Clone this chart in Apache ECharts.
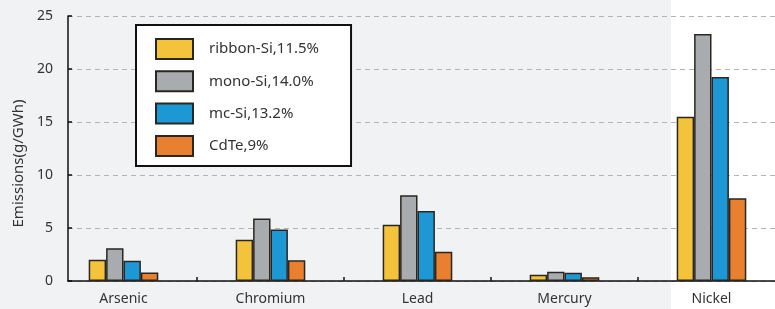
<!DOCTYPE html>
<html>
<head>
<meta charset="utf-8">
<script src="https://cdn.jsdelivr.net/npm/echarts@6/dist/echarts.min.js"></script>
<style>
  html, body { margin: 0; padding: 0; background: #f1f2f4; }
  #main { width: 775px; height: 309px; }
</style>
</head>
<body>
<div id="main"></div>
<script>
// 数据
let metals = ['Arsenic', 'Chromium', 'Lead', 'Mercury', 'Nickel'],
    ribbonSi = [2.0, 3.9, 5.3, 0.6, 15.5],
    monoSi = [3.1, 5.9, 8.1, 0.87, 23.3],
    mcSi = [1.9, 4.85, 6.6, 0.77, 19.25],
    cdTe = [0.8, 1.95, 2.75, 0.36, 7.8],
    yTicks = [0, 5, 10, 15, 20, 25];

let names = ['ribbon-Si,11.5%', 'mono-Si,14.0%', 'mc-Si,13.2%', 'CdTe,9%'],
    colors = ['#f2c33b', '#a9acaf', '#1e98d5', '#e8802f'],
    values = [ribbonSi, monoSi, mcSi, cdTe];

let font = 'Noto Sans, sans-serif',
    textColor = '#333';

let myChart = echarts.init(document.getElementById('main'));

myChart.setOption({
    backgroundColor: '#f1f2f4',
    animation: false,
    textStyle: { fontFamily: font },
    graphic: [
        // Nickel 区域白底
        { type: 'rect', z: -100, shape: { x: 671, y: 0, width: 104, height: 309 }, style: { fill: '#ffffff' } }
    ],
    legend: {
        orient: 'vertical',
        left: 136,
        top: 25,
        backgroundColor: '#fff',
        borderColor: '#111',
        borderWidth: 2,
        padding: [13, 32, 9, 19],
        icon: 'rect',
        itemWidth: 37,
        itemHeight: 20,
        itemGap: 10.3,
        data: names,
        textStyle: { fontSize: 15, lineHeight: 20, color: textColor, fontFamily: font, padding: [0, 0, 0, 11] }
    },
    grid: [
        { left: 50, width: 735, top: 16, bottom: 28, outerBoundsMode: 'none' },
        { left: 68, right: 0, top: 16, bottom: 28, outerBoundsMode: 'none' }
    ],
    xAxis: [
        {
            type: 'category',
            gridIndex: 0,
            data: metals,
            axisLine: { show: false },
            axisTick: { show: true, inside: true, length: 4, lineStyle: { color: '#111', width: 1.5 }, interval: (i) => i > 0 },
            axisLabel: { fontSize: 14, color: textColor, margin: 11, fontFamily: font }
        },
        {
            type: 'value',
            gridIndex: 1,
            min: 0,
            max: 1,
            axisLine: { show: true, lineStyle: { color: '#111', width: 1.5 } },
            axisTick: { show: false },
            axisLabel: { show: false },
            splitLine: { show: false }
        }
    ],
    yAxis: [
        {
            type: 'value',
            gridIndex: 0,
            min: 0,
            max: 25,
            interval: 5,
            show: false
        },
        {
            type: 'value',
            gridIndex: 1,
            min: yTicks[0],
            max: yTicks[yTicks.length - 1],
            interval: 5,
            name: 'Emissions(g/GWh)',
            nameLocation: 'middle',
            nameGap: 39,
            nameTextStyle: { fontSize: 15, color: textColor, fontFamily: font, padding: [0, 30, 0, 0] },
            axisLine: { show: true, lineStyle: { color: '#111', width: 1.5 } },
            axisTick: { show: true, inside: true, length: 4, lineStyle: { color: '#111', width: 1.5 } },
            axisLabel: { fontSize: 14, color: textColor, margin: 15, fontFamily: font },
            splitLine: { show: true, lineStyle: { color: '#b4b4b4', type: [5, 4], width: 1.2 } }
        }
    ],
    series: names.map((n, k) => ({
        name: n,
        type: 'bar',
        xAxisIndex: 0,
        yAxisIndex: 0,
        barWidth: 17.4,
        barGap: '0%',
        data: values[k],
        itemStyle: { color: colors[k], borderColor: '#2a2622', borderWidth: 1.5 }
    }))
});
</script>
</body>
</html>
